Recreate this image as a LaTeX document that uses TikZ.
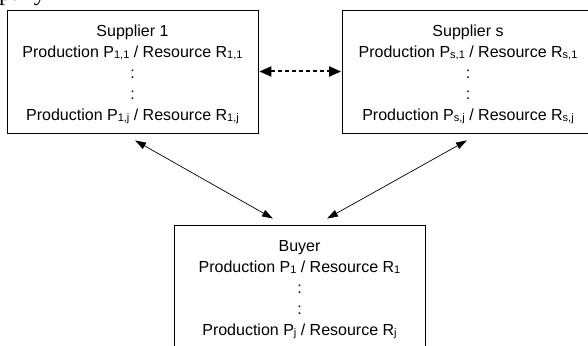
\documentclass[tikz,border=0pt]{standalone}
\usepackage{fontspec}
\setmainfont{Liberation Sans}
\newfontfamily\fragserif{Liberation Serif}
\usetikzlibrary{arrows.meta}
\newcommand{\sbx}[1]{\raisebox{-1.2pt}{\fontsize{11}{11}\selectfont #1}}
\newcommand{\topstrut}{\rule{0pt}{18pt}}
\begin{document}
\begin{tikzpicture}[x=1pt,y=1pt,
  box/.style={draw, line width=0.8pt, minimum width=251pt, minimum height=123pt,
    align=center, inner sep=0pt, font=\fontsize{16}{21}\selectfont},
  conn/.style={line width=0.7pt,
    {Triangle[length=11pt,width=7pt]}-{Triangle[length=11pt,width=7pt]}},
  dconn/.style={line width=2pt, dash pattern=on 4pt off 3pt,
    {Triangle[length=12pt,width=10pt]}-{Triangle[length=12pt,width=10pt]}}]
\useasboundingbox (0,0) rectangle (588,345);
\clip (0,0) rectangle (588,345);
\node[anchor=base west, inner sep=0pt, font=\fragserif\fontsize{24}{28}\selectfont] (frag) at (-1,344.8) {pany};
\node[box] (s1) at (132.5,273.5) {\topstrut Supplier 1\\Production P\sbx{1,1} / Resource R\sbx{1,1}\\:\\:\\Production P\sbx{1,j} / Resource R\sbx{1,j}};
\node[box] (s2) at (468,273.5) {\topstrut Supplier s\\Production P\sbx{s,1} / Resource R\sbx{s,1}\\:\\:\\Production P\sbx{s,j} / Resource R\sbx{s,j}};
\node[box] (b) at (299.5,58.5) {\topstrut Buyer\\Production P\sbx{1} / Resource R\sbx{1}\\:\\:\\Production P\sbx{j} / Resource R\sbx{j}};
\draw[dconn, shorten <=1pt, shorten >=1pt] (s1.east) -- (s2.west);
\draw[conn] ([xshift=2.5pt,yshift=-7pt]s1.south) -- ([xshift=-26.5pt,yshift=6pt]b.north);
\draw[conn] ([xshift=-1pt,yshift=-7pt]s2.south) -- ([xshift=27.5pt,yshift=6pt]b.north);
\end{tikzpicture}
\end{document}
